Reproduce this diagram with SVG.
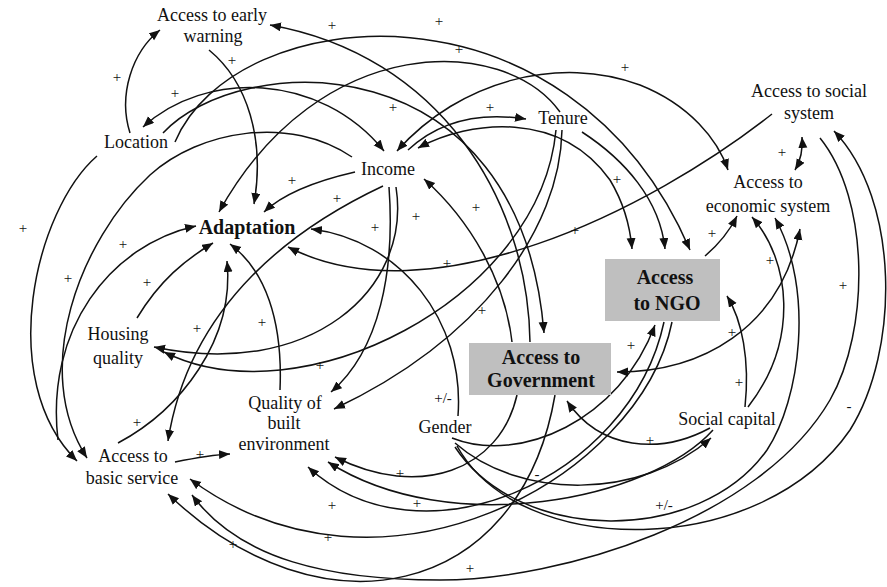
<svg xmlns="http://www.w3.org/2000/svg" width="887" height="587" viewBox="0 0 887 587">
<style>
.t{font-family:"Liberation Serif","Times New Roman","DejaVu Serif",serif;font-size:18px;fill:#111;text-anchor:middle}
.b{font-family:"Liberation Serif","Times New Roman","DejaVu Serif",serif;font-size:20px;font-weight:bold;fill:#111;text-anchor:middle}
.s{font-family:"Liberation Serif","Times New Roman","DejaVu Serif",serif;font-size:15px;fill:#111;text-anchor:middle}
.c path{fill:none;stroke:#111;stroke-width:1.5}
.e{marker-end:url(#a)}
.d{marker-start:url(#a);marker-end:url(#a)}
.box{fill:#bfbfbf}
</style>
<defs>
<marker id="a" markerUnits="userSpaceOnUse" markerWidth="12" markerHeight="10" refX="11" refY="4.5" orient="auto-start-reverse">
<path d="M0,0 L11,4.5 L0,9 z" fill="#111"/>
</marker>
</defs>
<rect width="887" height="587" fill="#fff"/>
<g id="connectors" class="c">
<path class="e" d="M130,133 C118,95 132,52 160,30"/>
<path class="e" d="M209,50 C248,82 265,140 254,204"/>
<path class="e" d="M530,342 C528,200 440,55 270,25"/>
<path class="e" d="M163,133 C240,50 520,40 544,333"/>
<path class="d" d="M384,151 C320,72 205,70 143,127"/>
<path class="e" d="M175,142 C235,0 570,-30 690,250"/>
<path class="e" d="M560,112 C505,35 320,30 219,212"/>
<path class="d" d="M397,151 C460,80 560,55 640,85 C690,105 718,140 728,170"/>
<path class="e" d="M408,150 C440,120 480,112 526,119"/>
<path class="d" d="M418,148 C470,120 560,110 610,180 C622,200 630,225 632,249"/>
<path class="e" d="M582,132 C625,160 660,200 665,249"/>
<path class="e" d="M772,114 C650,210 430,320 288,247"/>
<path class="e" d="M512,342 C505,280 470,220 424,179"/>
<path class="e" d="M355,172 C320,180 285,192 264,212"/>
<path class="e" d="M383,186 C300,225 190,300 168,441"/>
<path class="e" d="M389,187 C395,270 380,350 331,392"/>
<path class="e" d="M396,187 C412,290 310,380 154,347"/>
<path class="e" d="M556,130 C540,300 300,420 164,352"/>
<path class="e" d="M562,130 C560,230 480,340 334,409"/>
<path class="e" d="M352,157 C290,115 200,130 150,175 C80,240 30,370 87,458"/>
<path class="e" d="M97,156 C35,210 -5,380 77,461"/>
<path class="e" d="M58,440 C45,330 110,245 196,226"/>
<path class="e" d="M137,318 C160,280 185,260 213,243"/>
<path class="e" d="M280,390 C283,320 265,270 230,244"/>
<path class="e" d="M118,443 C180,410 235,340 227,261"/>
<path class="e" d="M175,462 C195,458 210,455 230,454"/>
<path class="e" d="M458,416 C465,320 400,240 311,229"/>
<path class="d" d="M795,170 C801,160 803,150 802,137"/>
<path class="e" d="M705,256 C718,245 730,230 737,216"/>
<path class="e" d="M745,407 C750,360 742,320 727,296"/>
<path class="e" d="M748,407 C800,340 790,260 752,217"/>
<path class="d" d="M617,372 C700,372 780,330 800,229"/>
<path class="e" d="M710,428 C660,455 600,450 567,401"/>
<path class="e" d="M452,438 C520,465 620,420 655,325"/>
<path class="e" d="M455,443 C520,500 640,500 711,438"/>
<path class="e" d="M457,446 C520,560 760,560 850,430 C900,350 900,200 834,131"/>
<path class="e" d="M455,447 C520,545 700,545 767,450 C800,400 815,290 775,218"/>
<path class="e" d="M820,138 C870,200 870,330 830,400 C760,520 560,580 440,580 C330,580 240,560 192,495"/>
<path class="e" d="M517,395 C500,470 420,500 335,457"/>
<path class="e" d="M713,430 C650,500 450,540 328,462"/>
<path class="e" d="M664,322 C630,480 420,570 308,467"/>
<path class="e" d="M672,322 C640,480 380,620 190,479"/>
<path class="e" d="M555,395 C520,600 320,640 168,494"/>
</g>
<g id="labels">
<text class="s" x="117" y="82">+</text>
<text class="s" x="232" y="65">+</text>
<text class="s" x="332" y="30">+</text>
<text class="s" x="439" y="26">+</text>
<text class="s" x="459" y="54">+</text>
<text class="s" x="625" y="72">+</text>
<text class="s" x="175" y="98">+</text>
<text class="s" x="393" y="112">+</text>
<text class="s" x="490" y="112">+</text>
<text class="s" x="23" y="233">+</text>
<text class="s" x="68" y="283">+</text>
<text class="s" x="123" y="249">+</text>
<text class="s" x="147" y="287">+</text>
<text class="s" x="292" y="185">+</text>
<text class="s" x="337" y="203">+</text>
<text class="s" x="416" y="221">+</text>
<text class="s" x="375" y="232">+</text>
<text class="s" x="476" y="212">+</text>
<text class="s" x="617" y="184">+</text>
<text class="s" x="575" y="235">+</text>
<text class="s" x="447" y="268">+</text>
<text class="s" x="482" y="315">+</text>
<text class="s" x="197" y="333">+</text>
<text class="s" x="262" y="327">+</text>
<text class="s" x="320" y="370">+</text>
<text class="s" x="137" y="427">+</text>
<text class="s" x="200" y="459">+</text>
<text class="s" x="400" y="478">+</text>
<text class="s" x="417" y="508">+</text>
<text class="s" x="332" y="510">+</text>
<text class="s" x="328" y="542">+</text>
<text class="s" x="233" y="549">+</text>
<text class="s" x="470" y="573">+</text>
<text class="s" x="650" y="445">+</text>
<text class="s" x="631" y="350">+</text>
<text class="s" x="712" y="238">+</text>
<text class="s" x="782" y="157">+</text>
<text class="s" x="770" y="265">+</text>
<text class="s" x="739" y="387">+</text>
<text class="s" x="732" y="337">+</text>
<text class="s" x="843" y="290">+</text>
<text class="s" x="849" y="411">-</text>
<text class="s" x="537" y="479">-</text>
<text class="s" x="664" y="510">+/-</text>
<text class="s" x="443" y="403">+/-</text>
</g>
<g id="n-aew"><text class="t" x="212" y="21">Access to early</text><text class="t" x="213" y="42">warning</text></g>
<g id="n-location"><text class="t" x="136" y="148">Location</text></g>
<g id="n-income"><text class="t" x="388" y="175">Income</text></g>
<g id="n-tenure"><text class="t" x="563" y="124">Tenure</text></g>
<g id="n-social-system"><text class="t" x="809" y="97">Access to social</text><text class="t" x="809" y="119">system</text></g>
<g id="n-economic"><text class="t" x="768" y="188">Access to</text><text class="t" x="768" y="212">economic system</text></g>
<g id="n-adaptation"><text class="b" x="247" y="234">Adaptation</text></g>
<g id="n-ngo"><rect class="box" x="605" y="259" width="115" height="62"/><text class="b" x="665" y="284">Access</text><text class="b" x="667" y="310">to NGO</text></g>
<g id="n-housing"><text class="t" x="118" y="340">Housing</text><text class="t" x="118" y="364">quality</text></g>
<g id="n-gov"><rect class="box" x="469" y="343" width="142" height="52"/><text class="b" x="541" y="364">Access to</text><text class="b" x="541" y="387">Government</text></g>
<g id="n-quality"><text class="t" x="285" y="409">Quality of</text><text class="t" x="284" y="429">built</text><text class="t" x="284" y="450">environment</text></g>
<g id="n-gender"><text class="t" x="445" y="433">Gender</text></g>
<g id="n-social-capital"><text class="t" x="727" y="425">Social capital</text></g>
<g id="n-abs"><text class="t" x="133" y="462">Access to</text><text class="t" x="132" y="484">basic service</text></g>
</svg>
